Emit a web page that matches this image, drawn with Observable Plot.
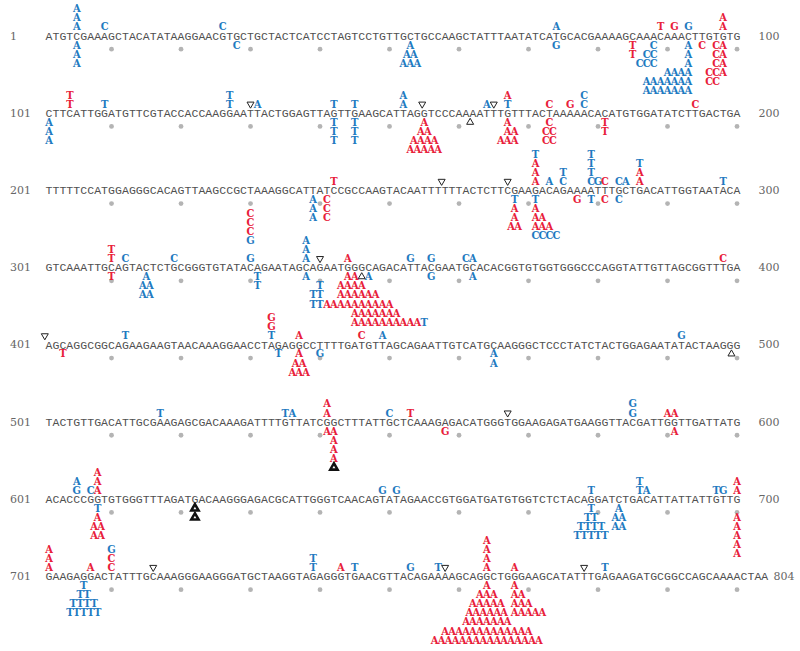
<!DOCTYPE html>
<html><head><meta charset="utf-8">
<script src="https://cdn.jsdelivr.net/npm/d3@7"></script>
<script src="https://cdn.jsdelivr.net/npm/@observablehq/plot@0.6"></script>
<style>body{margin:0;background:#fff} #chart svg{display:block} svg text.mut{font-stretch:condensed}</style>
</head><body><div id="chart"></div>
<script>
// ---- sequence (8 rows) ----
const sequenceRows = [
  "ATGTCGAAAGCTACATATAAGGAACGTGCTGCTACTCATCCTAGTCCTGTTGCTGCCAAGCTATTTAATATCATGCACGAAAAGCAAACAAACTTGTGTG",
  "CTTCATTGGATGTTCGTACCACCAAGGAATTACTGGAGTTAGTTGAAGCATTAGGTCCCAAAATTTGTTTACTAAAAACACATGTGGATATCTTGACTGA",
  "TTTTTCCATGGAGGGCACAGTTAAGCCGCTAAAGGCATTATCCGCCAAGTACAATTTTTTACTCTTCGAAGACAGAAAATTTGCTGACATTGGTAATACA",
  "GTCAAATTGCAGTACTCTGCGGGTGTATACAGAATAGCAGAATGGGCAGACATTACGAATGCACACGGTGTGGTGGGCCCAGGTATTGTTAGCGGTTTGA",
  "AGCAGGCGGCAGAAGAAGTAACAAAGGAACCTAGAGGCCTTTTGATGTTAGCAGAATTGTCATGCAAGGGCTCCCTATCTACTGGAGAATATACTAAGGG",
  "TACTGTTGACATTGCGAAGAGCGACAAAGATTTTGTTATCGGCTTTATTGCTCAAAGAGACATGGGTGGAAGAGATGAAGGTTACGATTGGTTGATTATG",
  "ACACCCGGTGTGGGTTTAGATGACAAGGGAGACGCATTGGGTCAACAGTATAGAACCGTGGATGATGTGGTCTCTACAGGATCTGACATTATTATTGTTG",
  "GAAGAGGACTATTTGCAAAGGGAAGGGATGCTAAGGTAGAGGGTGAACGTTACAGAAAAGCAGGCTGGGAAGCATATTTGAGAAGATGCGGCCAGCAAAACTAA"
];
const rowStartLabels = ["1", "101", "201", "301", "401", "501", "601", "701"];
const rowEndLabels = ["100", "200", "300", "400", "500", "600", "700", "804"];

// ---- mutations: [position in row, stack level (+ above / - below), letters, class] ----
const row1Muts = [
  [5,1,"A","b"],[5,2,"A","b"],[5,3,"A","b"],[9,1,"C","b"],[26,1,"C","b"],[74,1,"A","b"],
  [89,1,"T","r"],[91,1,"G","r"],[93,1,"G","b"],[98,1,"A","r"],[98,2,"A","r"],
  [5,-1,"A","b"],[5,-2,"A","b"],[5,-3,"A","b"],[28,-1,"C","b"],
  [53,-1,"A","b"],[53,-2,"AA","b"],[53,-3,"AAA","b"],[74,-1,"G","b"],
  [85,-1,"T","r"],[85,-2,"T","r"],
  [88,-1,"C","b"],[87.5,-2,"CC","b"],[87,-3,"CCC","b"],
  [93,-1,"A","b"],[93,-2,"A","b"],[93,-3,"A","b"],[91.5,-4,"AAAA","b"],[90,-5,"AAAAAAA","b"],[90,-6,"AAAAAAA","b"],
  [95,-1,"C","r"],[97.5,-1,"CA","r"],[97.5,-2,"CA","r"],[97.5,-3,"CA","r"],[97,-4,"CCA","r"],[96.5,-5,"CC","r"]
];
const row2Muts = [
  [4,1,"T","r"],[4,2,"T","r"],[9,1,"T","b"],[27,1,"T","b"],[27,2,"T","b"],[31,1,"A","b"],
  [42,1,"T","b"],[45,1,"T","b"],[52,1,"A","b"],[52,2,"A","b"],[64,1,"A","b"],
  [67,1,"T","b"],[67,2,"A","r"],[73,1,"C","r"],[76,1,"G","r"],[78,1,"C","b"],[78,2,"C","b"],[94,1,"C","r"],
  [1,-1,"A","b"],[1,-2,"A","b"],[1,-3,"A","b"],
  [42,-1,"T","b"],[42,-2,"T","b"],[42,-3,"T","b"],[45,-1,"T","b"],[45,-2,"T","b"],[45,-3,"T","b"],
  [55,-1,"A","r"],[55,-2,"AA","r"],[55,-3,"AAAA","r"],[55,-4,"AAAAA","r"],
  [67,-1,"A","r"],[67.5,-2,"AA","r"],[67,-3,"AAA","r"],
  [73,-1,"C","r"],[73,-2,"CC","r"],[73,-3,"CC","r"],[81,-1,"T","r"],[81,-2,"T","r"]
];
const row3Muts = [
  [42,1,"T","r"],
  [71,1,"A","r"],[71,2,"A","r"],[71,3,"A","r"],[71,4,"T","b"],[73,1,"A","b"],[75,1,"C","b"],[75,2,"T","b"],
  [79,1,"C","b"],[79,2,"T","b"],[79,3,"T","b"],[79,4,"T","b"],[80,1,"G","b"],[81,1,"C","r"],
  [83,1,"C","b"],[84,1,"A","b"],[86,1,"A","r"],[86,2,"A","r"],[86,3,"T","b"],[98,1,"T","b"],
  [39,-1,"A","b"],[39,-2,"A","b"],[39,-3,"A","b"],[41,-1,"C","r"],[41,-2,"C","r"],[41,-3,"C","r"],
  [68,-1,"T","b"],[68,-2,"A","r"],[68,-3,"A","r"],[68,-4,"AA","r"],
  [71,-1,"T","b"],[71,-2,"A","r"],[71.5,-3,"AA","r"],[72,-4,"AAA","r"],[72.5,-5,"CCCC","b"],
  [77,-1,"G","r"],[79,-1,"T","b"],[81,-1,"C","r"],[83,-1,"C","b"]
];
const row4Muts = [
  [10,1,"T","r"],[10,2,"T","r"],[12,1,"C","b"],[19,1,"C","b"],
  [30,1,"G","b"],[30,3,"G","b"],[30,4,"C","r"],[30,5,"C","r"],[30,6,"C","r"],
  [38,1,"A","b"],[38,2,"A","b"],[38,3,"A","b"],[44,1,"A","r"],
  [53,1,"G","b"],[56,1,"G","b"],[61,1,"C","b"],[62,1,"A","b"],[98,1,"C","r"],
  [10,-1,"T","r"],[15,-1,"A","b"],[15,-2,"AA","b"],[15,-3,"AA","b"],
  [31,-1,"T","b"],[31,-2,"T","b"],[38,-1,"A","b"],
  [40,-2,"T","b"],[39.5,-3,"TT","b"],[39.5,-4,"TT","b"],
  [44.5,-1,"AA","r"],[47,-1,"A","b"],
  [44.5,-2,"AAAA","r"],[45.5,-3,"AAAAAA","r"],[45.5,-4,"AAAAAAAAAA","r"],
  [48,-5,"AAAAAAA","r"],[49.5,-6,"AAAAAAAAAA","r"],[55,-6,"T","b"],
  [56,-1,"G","b"],[62,-1,"A","b"]
];
const row5Muts = [
  [12,1,"T","b"],[33,1,"T","b"],[33,2,"G","r"],[33,3,"G","r"],[37,1,"A","r"],
  [46,1,"C","r"],[49,1,"A","b"],[92,1,"G","b"],
  [3,-1,"T","r"],[34,-1,"T","b"],[37,-1,"A","r"],[37,-2,"AA","r"],[37,-3,"AAA","r"],
  [40,-1,"G","b"],[65,-1,"A","b"],[65,-2,"A","b"]
];
const row6Muts = [
  [17,1,"T","b"],[35,1,"T","b"],[36,1,"A","b"],[41,1,"A","r"],[41,2,"A","r"],
  [50,1,"C","b"],[53,1,"T","r"],[85,1,"G","b"],[85,2,"G","b"],[90.5,1,"AA","r"],
  [41.5,-1,"AA","r"],[42,-2,"A","r"],[42,-3,"A","r"],[42,-4,"A","r"],
  [58,-1,"G","r"],[91,-1,"A","r"]
];
const row7Muts = [
  [5,1,"G","b"],[5,2,"A","b"],[7,1,"C","b"],[8,1,"A","r"],[8,2,"A","r"],[8,3,"A","r"],
  [49,1,"G","b"],[51,1,"G","b"],[79,1,"T","b"],[86,1,"T","b"],[86,2,"T","b"],[87,1,"A","b"],
  [97,1,"T","b"],[98,1,"G","b"],[100,1,"A","r"],[100,2,"A","r"],
  [8,-1,"T","b"],[8,-2,"A","r"],[8,-3,"AA","r"],[8,-4,"AA","r"],
  [79,-1,"T","b"],[79,-2,"TT","b"],[79,-3,"TTTT","b"],[79,-4,"TTTTT","b"],
  [83,-1,"A","b"],[83,-2,"AA","b"],[83,-3,"AA","b"],
  [100,-2,"A","r"],[100,-3,"A","r"],[100,-4,"A","r"],[100,-5,"A","r"],[100,-6,"A","r"]
];
const row8Muts = [
  [1,1,"A","r"],[1,2,"A","r"],[1,3,"A","r"],[7,1,"A","r"],
  [10,1,"C","r"],[10,2,"C","r"],[10,3,"G","b"],[39,1,"T","b"],[39,2,"T","b"],
  [43,1,"A","r"],[45,1,"T","b"],[53,1,"G","b"],[57,1,"T","b"],
  [64,1,"A","r"],[64,2,"A","r"],[64,3,"A","r"],[64,4,"A","r"],[68,1,"A","r"],[81,1,"T","b"],
  [6,-1,"T","b"],[6,-2,"TT","b"],[6,-3,"TTTT","b"],[6,-4,"TTTTT","b"],
  [64,-1,"A","r"],[64,-2,"AAA","r"],[64,-3,"AAAAA","r"],[64,-4,"AAAAAA","r"],
  [64,-5,"AAAAAAA","r"],[64,-6,"AAAAAAAAAAAAA","r"],[64,-7,"AAAAAAAAAAAAAAAA","r"],
  [68,-1,"A","r"],[68.5,-2,"AA","r"],[69,-3,"AAA","r"],[70,-4,"AAAAA","r"]
];
const mutationRows = [row1Muts,row2Muts,row3Muts,row4Muts,row5Muts,row6Muts,row7Muts,row8Muts];

// insertions (open down-triangles above), deletions (open up-triangles below): [row, position]
const insertions = [[1,30],[1,54.7],[1,65],[2,57.5],[2,67],[3,40],[4,0.4],[5,67],[7,16],[7,58],[7,78]];
const deletions = [[1,61.6],[3,46],[4,99.2]];
// large deletions (filled triangles): [row, position, stack level]
const largeDeletions = [[5,42,-5],[6,22,-1],[6,22,-2]];

// ---- layout helpers ----
const LPR = 8.5;                  // stack levels between consecutive sequence rows
const yv = (r, l) => r * LPR - l;

const seqLetters = [];
sequenceRows.forEach((s, r) => { for (let i = 0; i < s.length; i++) seqLetters.push({x: i + 1, y: yv(r, 0), ch: s[i]}); });
const tickDots = [];
sequenceRows.forEach((s, r) => { for (let p = 10; p <= 100; p += 10) tickDots.push({x: p, y: yv(r, -1.45)}); });
const letters = [];
mutationRows.forEach((rows, r) => rows.forEach(([c, lvl, s, cls]) => {
  const n = s.length;
  for (let i = 0; i < n; i++) letters.push({x: c + i - (n - 1) / 2, y: yv(r, lvl), ch: s[i], cls});
}));
const startLabels = rowStartLabels.map((t, r) => ({x: -4.6, y: yv(r, 0), t}));
const endLabels = rowEndLabels.map((t, r) => ({x: Math.max(103.1, sequenceRows[r].length + 1.25), y: yv(r, 0), t}));
const ins = insertions.map(([r, p]) => ({x: p, y: yv(r, 1)}));
const dels = deletions.map(([r, p]) => ({x: p, y: yv(r, -1)}));
const bigDels = largeDeletions.map(([r, p, l]) => ({x: p, y: yv(r, l)}));

const chart = Plot.plot({
  width: 800, height: 651, margin: 0,
  x: {domain: [0.5, 100.5], range: [45, 740], axis: null},
  y: {domain: [0, 7 * LPR], range: [35.5, 576], axis: null},
  color: {domain: ["b", "r"], range: ["#1f7bc1", "#e8203a"]},
  style: {background: "white"},
  marks: [
    Plot.dot(tickDots, {x: "x", y: "y", r: 2.4, fill: "#b4b4b4"}),
    Plot.text(seqLetters, {x: "x", y: "y", text: "ch", fill: "#505050", fontSize: 11.5, fontFamily: "Liberation Mono"}),
    Plot.text(startLabels, {x: "x", y: "y", text: "t", fill: "#666", fontSize: 11, fontFamily: "DejaVu Serif", textAnchor: "start"}),
    Plot.text(endLabels, {x: "x", y: "y", text: "t", fill: "#666", fontSize: 11, fontFamily: "DejaVu Serif", textAnchor: "start"}),
    Plot.text(letters, {x: "x", y: "y", text: "ch", fill: "cls", fontSize: 11, fontWeight: "bold", fontFamily: "DejaVu Serif Condensed, DejaVu Serif", className: "mut"}),
    Plot.dot(ins, {x: "x", y: "y", symbol: "triangle", rotate: 180, r: 2.6, stroke: "#222", fill: "white", strokeWidth: 1}),
    Plot.dot(dels, {x: "x", y: "y", symbol: "triangle", r: 2.6, stroke: "#222", fill: "white", strokeWidth: 1}),
    Plot.dot(bigDels, {x: "x", y: "y", symbol: "triangle", r: 3.4, fill: "#111", stroke: "#111"}),
    Plot.dot(bigDels, {x: "x", y: "y", symbol: "triangle", r: 1.1, fill: "white"})
  ]
});
document.getElementById("chart").appendChild(chart);
</script></body></html>
